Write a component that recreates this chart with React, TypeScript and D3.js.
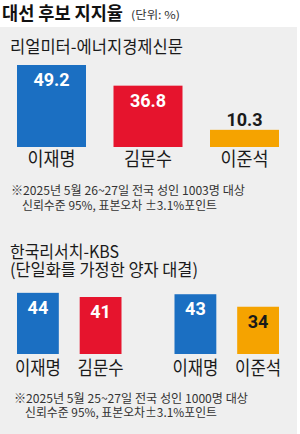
import React from "react";
import * as d3 from "d3";

// poll 1: 리얼미터-에너지경제신문
const poll1Names = ["이재명", "김문수", "이준석"];
const poll1Values = [49.2, 36.8, 10.3];

// poll 2: 한국리서치-KBS, two head-to-head pairs
const poll2Pairs = ["이재명-김문수", "이재명-이준석"];
const poll2Names = [["이재명", "김문수"], ["이재명", "이준석"]];
const poll2Values = [[44, 41], [43, 34]];

const partyColor = {
  "이재명": "#1b6fc2",
  "김문수": "#e6142d",
  "이준석": "#f5a300",
};

const KR = "'Noto Sans CJK KR', 'Noto Sans', sans-serif";
const NUM = "Roboto, 'Liberation Sans', sans-serif";

const W = 300;
const H = 434;

function ValueLabel({ x, y, barTop, value, name }) {
  const inside = y(0) - barTop > 30;
  const fill = name === "이준석" ? "#1a1a1a" : "#fff";
  return (
    <text
      x={x}
      y={inside ? barTop + 21 : barTop - 4}
      textAnchor="middle"
      fontFamily={NUM}
      fontWeight="bold"
      fontSize={18}
      fill={inside ? fill : "#1a1a1a"}
    >
      {value}
    </text>
  );
}

export default function App() {
  // first chart
  const x1 = d3.scaleBand().domain(poll1Names).range([17, 279]).paddingInner(0.285).paddingOuter(0);
  const y1 = d3.scaleLinear().domain([0, 60]).range([147, 47]);

  // second chart
  const xg = d3.scaleBand().domain(poll2Pairs).range([17, 279]).paddingInner(0.3365).paddingOuter(0);
  const xi = d3.scaleBand().domain(["a", "b"]).range([0, xg.bandwidth()]).paddingInner(0.333).paddingOuter(0);
  const y2 = d3.scaleLinear().domain([0, 60]).range([354, 270.6]);

  return (
    <svg width={W} height={H} style={{ position: "absolute", left: 0, top: 0, background: "#fff" }}>
      <rect x={0} y={27} width={297} height={H - 27} fill="#efefef" />

      <text x={2} y={20} fontFamily={KR} fontWeight="bold" fontSize={18} fill="#111" textLength={121} lengthAdjust="spacingAndGlyphs">
        대선 후보 지지율
      </text>
      <text x={131} y={19} fontFamily={KR} fontSize={11} fill="#333" textLength={49} lengthAdjust="spacingAndGlyphs">
        (단위: %)
      </text>

      <text x={10} y={53} fontFamily={KR} fontSize={17} fill="#1a1a1a" textLength={173} lengthAdjust="spacingAndGlyphs">
        리얼미터-에너지경제신문
      </text>

      {poll1Names.map((n, i) => {
        const v = poll1Values[i];
        const bx = x1(n);
        const cx = bx + x1.bandwidth() / 2;
        return (
          <g key={n}>
            <rect x={bx} y={y1(v)} width={x1.bandwidth()} height={y1(0) - y1(v)} fill={partyColor[n]} />
            <ValueLabel x={cx} y={y1} barTop={y1(v)} value={v} name={n} />
            <text x={cx} y={166} textAnchor="middle" fontFamily={KR} fontSize={19} fill="#1a1a1a" textLength={48} lengthAdjust="spacingAndGlyphs">
              {n}
            </text>
          </g>
        );
      })}

      <text x={11} y={195} fontFamily={KR} fontSize={12} fill="#333" textLength={234} lengthAdjust="spacingAndGlyphs">
        ※2025년 5월 26~27일 전국 성인 1003명 대상
      </text>
      <text x={22} y={210} fontFamily={KR} fontSize={12} fill="#333" textLength={195} lengthAdjust="spacingAndGlyphs">
        신뢰수준 95%, 표본오차 ±3.1%포인트
      </text>

      <text x={10} y={258} fontFamily={KR} fontSize={17} fill="#1a1a1a" textLength={109} lengthAdjust="spacingAndGlyphs">
        한국리서치-KBS
      </text>
      <text x={10} y={276} fontFamily={KR} fontSize={17} fill="#1a1a1a" textLength={188} lengthAdjust="spacingAndGlyphs">
        (단일화를 가정한 양자 대결)
      </text>

      {poll2Pairs.map((p, gi) => (
        <g key={p} transform={`translate(${xg(p)},0)`}>
          {poll2Names[gi].map((n, i) => {
            const v = poll2Values[gi][i];
            const key = i === 0 ? "a" : "b";
            const bx = xi(key);
            const cx = bx + xi.bandwidth() / 2;
            return (
              <g key={key}>
                <rect x={bx} y={y2(v)} width={xi.bandwidth()} height={y2(0) - y2(v)} fill={partyColor[n]} />
                <ValueLabel x={cx} y={y2} barTop={y2(v)} value={v} name={n} />
                <text x={cx} y={375} textAnchor="middle" fontFamily={KR} fontSize={19} fill="#1a1a1a" textLength={46} lengthAdjust="spacingAndGlyphs">
                  {n}
                </text>
              </g>
            );
          })}
        </g>
      ))}

      <text x={14} y={403} fontFamily={KR} fontSize={12} fill="#333" textLength={234} lengthAdjust="spacingAndGlyphs">
        ※2025년 5월 25~27일 전국 성인 1000명 대상
      </text>
      <text x={25} y={417} fontFamily={KR} fontSize={12} fill="#333" textLength={192} lengthAdjust="spacingAndGlyphs">
        신뢰수준 95%, 표본오차±3.1%포인트
      </text>
    </svg>
  );
}
